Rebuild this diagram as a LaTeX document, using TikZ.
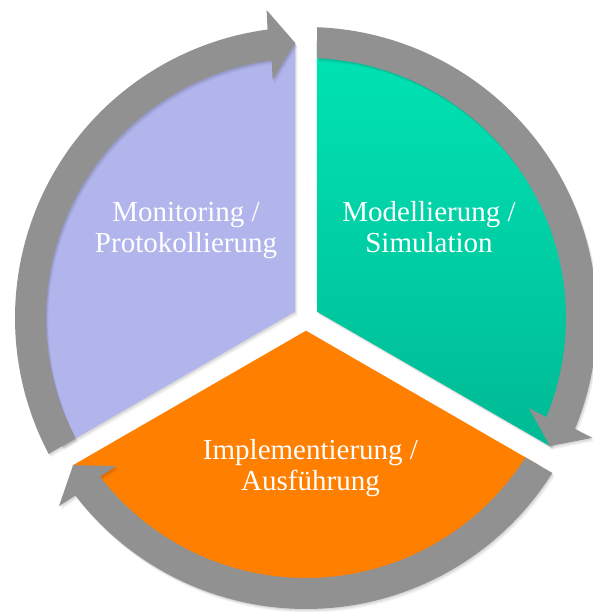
\documentclass[tikz,border=0pt]{standalone}
\usepackage{fontspec}
\setmainfont{Liberation Serif}
\usetikzlibrary{calc}
\definecolor{ringgray}{RGB}{145,145,145}
\definecolor{lav}{RGB}{177,181,236}
\definecolor{greentop}{RGB}{0,228,180}
\definecolor{greenbot}{RGB}{0,186,148}
\definecolor{orng}{RGB}{255,127,0}
\begin{document}
\begin{tikzpicture}[x=1pt,y=1pt,
  txtlabel/.style={text=white, font=\fontsize{29}{31}\selectfont, align=center, inner sep=0pt},
  softshadow/.style={
    preaction={fill=black, fill opacity=0.06, transform canvas={shift={(0.8pt,-1.2pt)}}},
    preaction={fill=black, fill opacity=0.06, transform canvas={shift={(1.6pt,-2.4pt)}}},
    preaction={fill=black, fill opacity=0.04, transform canvas={shift={(2.4pt,-3.6pt)}}}},
  arrowband/.style={fill=ringgray, draw=none, softshadow}]
\useasboundingbox (-306,-294) rectangle (287,318);
\clip (-306,-294) rectangle (287,318);
\fill[white] (-306,-294) rectangle (287,318);

% sectors
\fill[lav, softshadow] (150:12.7) -- (92.28:276) arc[start angle=92.28, end angle=207.72, radius=276] -- cycle;
\path[softshadow] (30:12.7) -- (-27.72:276) arc[start angle=-27.72, end angle=87.72, radius=276] -- cycle;
\shade[top color=greentop, bottom color=greenbot] (30:12.7) -- (-27.72:276) arc[start angle=-27.72, end angle=87.72, radius=276] -- cycle;
\fill[orng, softshadow] (270:12.7) -- (212.28:276) arc[start angle=212.28, end angle=327.72, radius=276] -- cycle;

% arrow key points
\coordinate (T1) at (92.29:275.5);
\coordinate (M1) at (97.59:275.5);
\coordinate (T2) at (-27.71:275.5);
\coordinate (M2) at (-22.41:275.5);
\coordinate (T3) at (-147.71:275.5);
\coordinate (M3) at (-142.41:275.5);

% top arrow
\fill[arrowband] (207.83:291) arc[start angle=207.83, end angle=97.59, radius=291]
  -- ($(M1)!35pt!90:(T1)$) -- (T1) -- ($(M1)!35pt!-90:(T1)$)
  -- (97.59:260) arc[start angle=97.59, end angle=207.58, radius=260] -- cycle;
% right arrow
\fill[arrowband] (87.83:291) arc[start angle=87.83, end angle=-22.41, radius=291]
  -- ($(M2)!35pt!90:(T2)$) -- (T2) -- ($(M2)!35pt!-90:(T2)$)
  -- (-22.41:260) arc[start angle=-22.41, end angle=87.58, radius=260] -- cycle;
% bottom arrow
\fill[arrowband] (-32.17:291) arc[start angle=-32.17, end angle=-142.41, radius=291]
  -- ($(M3)!35pt!90:(T3)$) -- (T3) -- ($(M3)!35pt!-90:(T3)$)
  -- (-142.41:260) arc[start angle=-142.41, end angle=-32.42, radius=260] -- cycle;

% labels
\node[txtlabel] (mon) at (-120,86.7) {\strut Monitoring /\\\strut Protokollierung};
\node[txtlabel] (mod) at (123,86.7) {\strut Modellierung /\\\strut Simulation};
\node[txtlabel] (impl) at (4.5,-150.8) {\strut Implementierung /\\\strut Ausführung};
\end{tikzpicture}
\end{document}
